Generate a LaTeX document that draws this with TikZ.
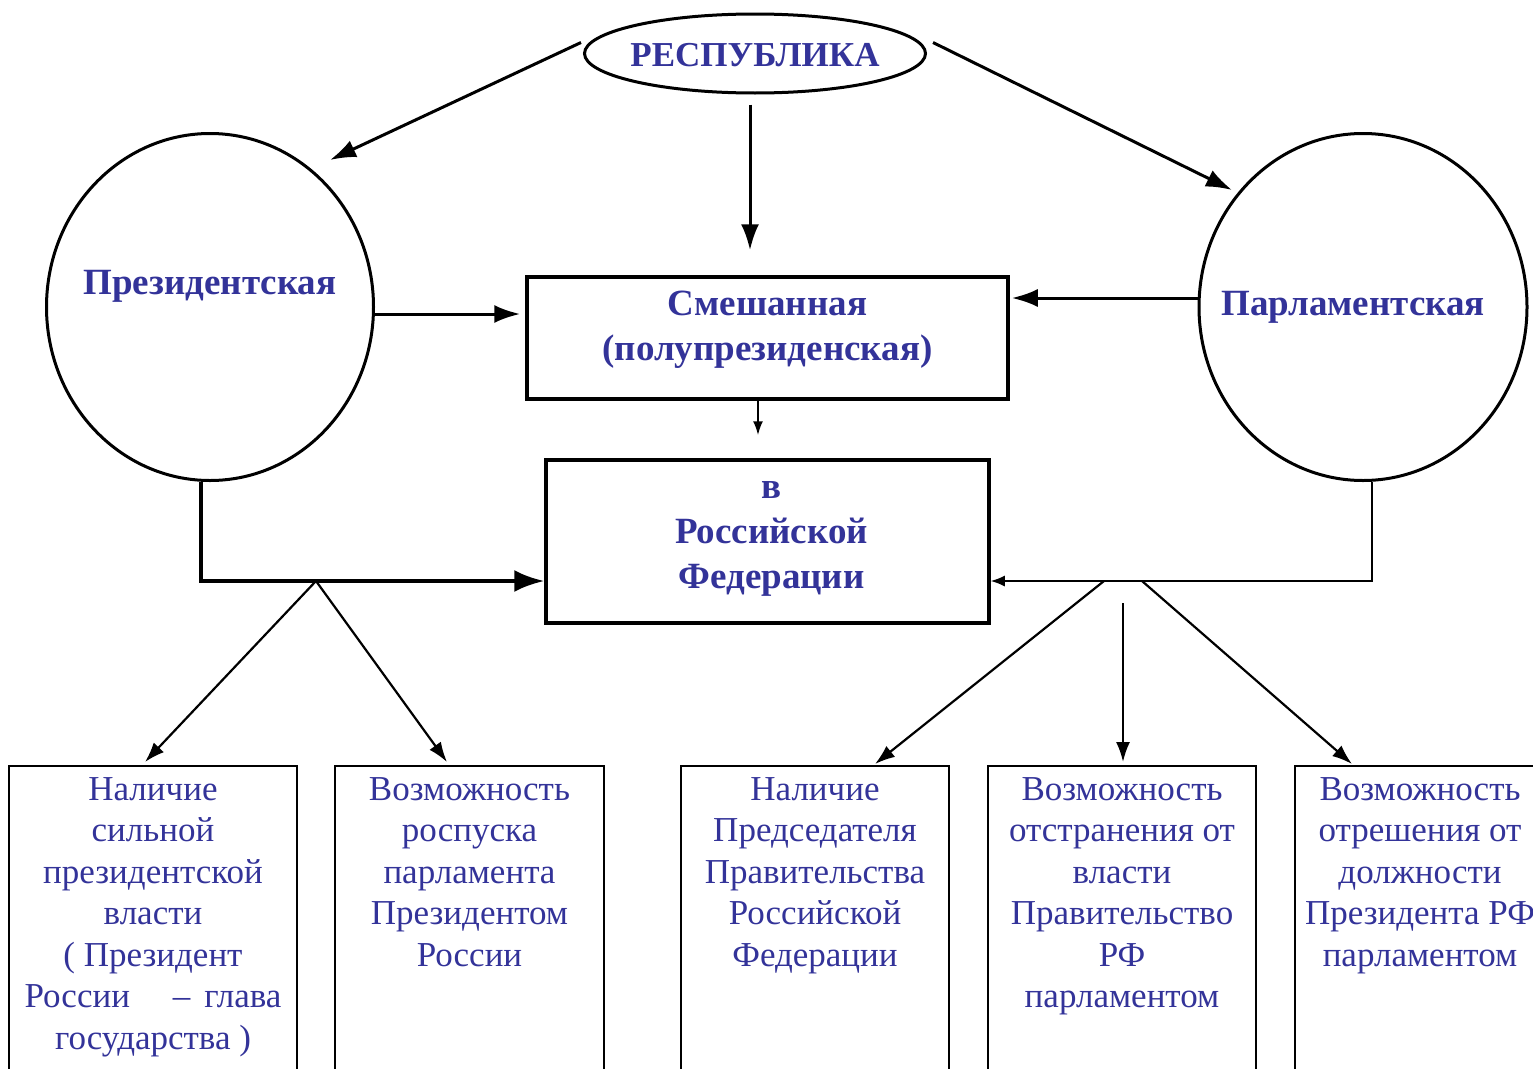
\documentclass[tikz,border=0pt]{standalone}
\usepackage{fontspec}
\setmainfont{Liberation Serif}
\usetikzlibrary{shapes.geometric, arrows.meta, positioning}
\definecolor{txtblue}{RGB}{51,51,153}

\begin{document}
\begin{tikzpicture}[x=1pt, y=-1pt,
    every node/.style={inner sep=0pt, text=txtblue},
    form/.style={ellipse, draw, line width=3pt},
    head/.style={font=\bfseries\fontsize{37}{45}\selectfont, align=center},
    body/.style={font=\fontsize{35}{41.5}\selectfont, align=center},
    frame/.style={rectangle, draw, line width=3.5pt},
    leaf/.style={rectangle, draw, line width=2pt, minimum width=268pt, minimum height=330pt, anchor=north},
    bigarrow/.style={line width=3pt, -{Latex[length=26pt,width=18pt]}},
    thinarrow/.style={line width=2pt, -{Latex[length=14pt,width=10pt]}},
    legarrow/.style={line width=2.2pt, -{Latex[length=20pt,width=14pt]}}]
    \useasboundingbox (0,0) rectangle (1533,1068);
    \clip (0,0) rectangle (1533,1068);

    % forms of the republic
    \node[form, minimum width=341pt, minimum height=79pt,
          label={[head, font=\bfseries\fontsize{35}{45}\selectfont, yshift=-1.5pt]center:РЕСПУБЛИКА}] (rep) at (755,53.5) {};
    \node[form, minimum width=327pt, minimum height=347pt,
          label={[head, yshift=21pt]center:Президентская}] (pres) at (210,307) {};
    \node[form, minimum width=328pt, minimum height=347pt,
          label={[head, xshift=-10pt, yshift=0pt]center:Парламентская}] (parl) at (1363,307) {};
    \node[frame, minimum width=481pt, minimum height=122pt,
          label={[head, yshift=8pt]center:{Смешанная\\(полупрезиденская)}}] (mix) at (767.5,338) {};
    \node[frame, minimum width=443pt, minimum height=163pt,
          label={[head, xshift=4pt, yshift=3pt]center:{в\\Российской\\Федерации}}] (rf) at (767.5,541.5) {};

    % features
    \node[leaf, minimum width=288pt,
          label={[body, anchor=north, yshift=-12pt]north:{Наличие\\сильной\\президентской\\власти\\( Президент\\\makebox[257pt]{России\hfill–\hspace{14pt}глава}\\государства )}}] (b1) at (153,765) {};
    \node[leaf, minimum width=269pt,
          label={[body, anchor=north, yshift=-12pt]north:{Возможность\\роспуска\\парламента\\Президентом\\России}}] (b2) at (469.5,765) {};
    \node[leaf,
          label={[body, anchor=north, yshift=-12pt]north:{Наличие\\Председателя\\Правительства\\Российской\\Федерации}}] (b3) at (815,765) {};
    \node[leaf,
          label={[body, anchor=north, yshift=-12pt]north:{Возможность\\отстранения от\\власти\\Правительство\\РФ\\парламентом}}] (b4) at (1122,765) {};
    \node[leaf,
          label={[body, anchor=north, xshift=-9pt, yshift=-12pt]north:{Возможность\\отрешения от\\должности\\Президента РФ\\парламентом}}] (b5) at (1429,765) {};

    \coordinate (lfork) at (316,581);
    \coordinate (rfork1) at (1104,581);
    \coordinate (rfork2) at (1142,581);
    \coordinate (rmid) at (1123,603);

    % connectors
    \draw[bigarrow] ([xshift=-2pt,yshift=11pt]rep.west) -- ([xshift=120pt,yshift=147pt]pres.center);
    \draw[bigarrow] ([xshift=6pt,yshift=11pt]rep.east) -- ([xshift=-131pt,yshift=117pt]parl.center);
    \draw[bigarrow] ([xshift=-5pt,yshift=-10pt]rep.south) -- ([xshift=-17.5pt,yshift=25pt]mix.north);
    \draw[bigarrow] ([yshift=-7pt]pres.east) -- ([xshift=-5pt,yshift=24pt]mix.west);
    \draw[bigarrow] ([yshift=9pt]parl.west) -- ([xshift=2pt,yshift=40pt]mix.east);
    \draw[thinarrow] ([xshift=-9.5pt]mix.south) -- ([xshift=-9.5pt,yshift=23pt]rf.north);
    \draw[line width=4pt, -{Latex[length=30pt,width=22pt]}] ([xshift=-9pt]pres.south) |- ([yshift=-39.5pt]rf.west);
    \draw[line width=1.5pt, -{Latex[length=14pt,width=11pt]}] ([xshift=9pt]parl.south) |- ([yshift=-39.5pt]rf.east);

    \draw[legarrow] (lfork) -- ([xshift=-8pt,yshift=3pt]b1.north);
    \draw[legarrow] (lfork) -- ([xshift=-22.5pt,yshift=3pt]b2.north);
    \draw[legarrow] (rfork1) -- ([xshift=60pt,yshift=1pt]b3.north);
    \draw[legarrow] (rmid) -- ([xshift=1pt,yshift=3pt]b4.north);
    \draw[legarrow] (rfork2) -- ([xshift=-77pt,yshift=1pt]b5.north);
\end{tikzpicture}
\end{document}
